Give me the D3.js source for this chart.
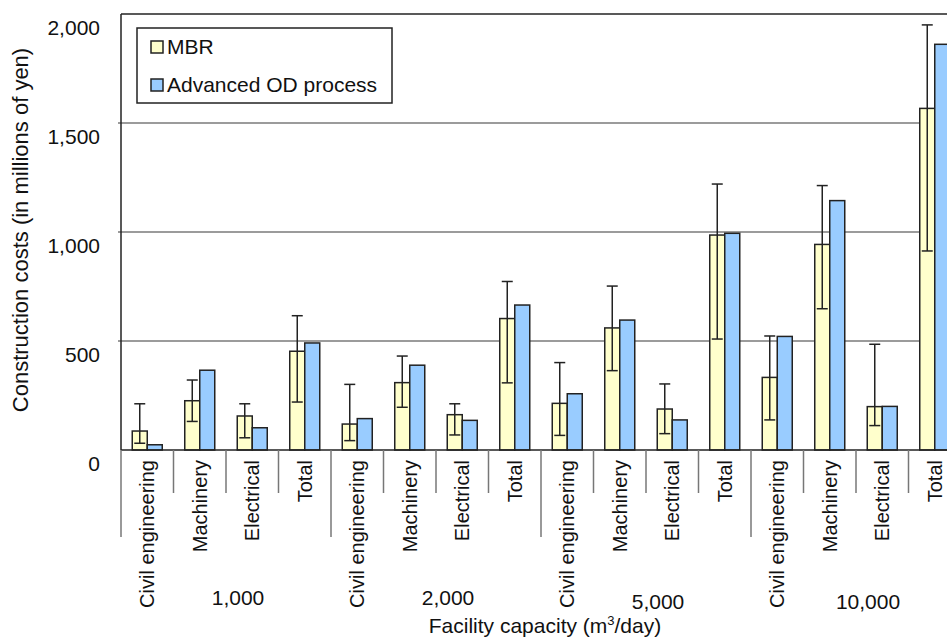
<!DOCTYPE html>
<html>
<head>
<meta charset="utf-8">
<script src="https://cdn.jsdelivr.net/npm/d3@7"></script>
<style>
  html, body { margin: 0; padding: 0; background: #fff; }
  svg { display: block; font-family: "Liberation Sans", Arial, sans-serif; }
</style>
</head>
<body>
<svg id="chart" width="947" height="640"></svg>
<script>
// Facility capacities (m3/day) and the cost items shown for each
const capacities = ["1,000", "2,000", "5,000", "10,000"];
const items = ["Civil engineering", "Machinery", "Electrical", "Total"];

// MBR construction costs (millions of yen), in capacity-then-item order
const mbrValues = [87, 226, 156, 453, 119, 309, 162, 603, 214, 560, 188, 986, 333, 943, 199, 1567];
// MBR range (error bar low / high)
const mbrLow  = [31, 131, 56, 220, 43, 196, 69, 308, 67, 364, 75, 509, 138, 648, 112, 913];
const mbrHigh = [212, 321, 212, 616, 301, 431, 212, 773, 401, 752, 303, 1220, 523, 1213, 485, 1950];
// Advanced OD process construction costs (millions of yen)
const odValues = [24, 366, 102, 491, 144, 389, 136, 665, 258, 596, 138, 994, 521, 1144, 200, 1861];

const yTicks = [0, 500, 1000, 1500, 2000];
const seriesNames = ["MBR", "Advanced OD process"];
const seriesColors = ["#ffffcc", "#99ccff"];

const svg = d3.select("#chart");
const plot = { left: 121, right: 961, top: 14, bottom: 450 };

// one slot per (capacity, item) pair
const slots = [];
capacities.forEach((c, gi) => items.forEach((it, ii) => slots.push({ cap: c, item: it, gi, ii, k: gi * items.length + ii })));

const x = d3.scaleBand().domain(slots.map(s => s.k)).range([plot.left, plot.right]);
const bw = x.bandwidth();
const xs = d3.scaleBand().domain(seriesNames).range([bw / 2 - 15, bw / 2 + 15]);
const y = d3.scaleLinear().domain([0, 2000]).range([plot.bottom, plot.top]);

// horizontal gridlines
svg.append("g").selectAll("line").data(yTicks.filter(v => v > 0 && v < 2000)).join("line")
  .attr("x1", plot.left - 3).attr("x2", 947)
  .attr("y1", d => y(d)).attr("y2", d => y(d))
  .attr("stroke", "#7a7a7a").attr("stroke-width", 1.5);

// top border line
svg.append("line").attr("x1", plot.left).attr("x2", 947)
  .attr("y1", y(2000)).attr("y2", y(2000))
  .attr("stroke", "#222").attr("stroke-width", 1.5);

// y axis labels
const yAxis = svg.append("g").attr("transform", `translate(${plot.left},0)`)
  .call(d3.axisLeft(y).tickValues(yTicks).tickFormat(d3.format(",")).tickSize(0).tickPadding(21));
yAxis.select(".domain").remove();
yAxis.selectAll("text")
  .attr("dy", 20).attr("font-size", 21).attr("fill", "#111")
  .attr("font-family", "Liberation Sans, Arial, sans-serif");

// left axis line
svg.append("line").attr("x1", plot.left).attr("x2", plot.left)
  .attr("y1", plot.top).attr("y2", plot.bottom)
  .attr("stroke", "#222").attr("stroke-width", 1.5);

// bars
const barG = svg.append("g");
const series = [
  { name: seriesNames[0], values: mbrValues, color: seriesColors[0] },
  { name: seriesNames[1], values: odValues, color: seriesColors[1] }
];
series.forEach(s => {
  barG.append("g").selectAll("rect").data(slots).join("rect")
    .attr("x", d => x(d.k) + xs(s.name))
    .attr("width", xs.bandwidth())
    .attr("y", d => y(s.values[d.k]))
    .attr("height", d => y(0) - y(s.values[d.k]))
    .attr("fill", s.color)
    .attr("stroke", "#222").attr("stroke-width", 1.5);
});

// MBR error bars
const errG = svg.append("g").attr("stroke", "#222").attr("stroke-width", 1.5);
const ex = d => x(d.k) + xs(seriesNames[0]) + xs.bandwidth() / 2;
errG.selectAll("line.v").data(slots).join("line").attr("class", "v")
  .attr("x1", ex).attr("x2", ex)
  .attr("y1", d => y(mbrLow[d.k])).attr("y2", d => y(mbrHigh[d.k]));
errG.selectAll("line.hi").data(slots).join("line").attr("class", "hi")
  .attr("x1", d => ex(d) - 5.5).attr("x2", d => ex(d) + 5.5)
  .attr("y1", d => y(mbrHigh[d.k])).attr("y2", d => y(mbrHigh[d.k]));
errG.selectAll("line.lo").data(slots).join("line").attr("class", "lo")
  .attr("x1", d => ex(d) - 5.5).attr("x2", d => ex(d) + 5.5)
  .attr("y1", d => y(mbrLow[d.k])).attr("y2", d => y(mbrLow[d.k]));

// baseline
svg.append("line").attr("x1", plot.left).attr("x2", 947)
  .attr("y1", y(0)).attr("y2", y(0))
  .attr("stroke", "#222").attr("stroke-width", 1.5);

// category separators: long between capacity groups, short between items
svg.append("g").selectAll("line").data(slots).join("line")
  .attr("x1", d => x(d.k)).attr("x2", d => x(d.k))
  .attr("y1", plot.bottom)
  .attr("y2", d => d.ii === 0 ? 537 : 493)
  .attr("stroke", "#777").attr("stroke-width", 1.5);

// item labels (rotated)
svg.append("g").selectAll("text").data(slots).join("text")
  .attr("transform", d => `translate(${x(d.k) + bw / 2},460) rotate(-90)`)
  .attr("text-anchor", "end").attr("dy", "0.35em")
  .attr("font-size", 20).attr("fill", "#111")
  .text(d => d.item);

// capacity group labels
svg.append("g").selectAll("text").data(capacities).join("text")
  .attr("x", (d, i) => x(i * items.length) + bw * items.length / 2 + 12)
  .attr("y", (d, i) => i < 2 ? 605 : 609)
  .attr("text-anchor", "middle").attr("font-size", 21).attr("fill", "#111")
  .text(d => d);

// axis titles
const xt = svg.append("text")
  .attr("x", (plot.left + plot.right) / 2 + 4).attr("y", 633)
  .attr("text-anchor", "middle").attr("font-size", 21).attr("fill", "#111");
xt.append("tspan").text("Facility capacity (m");
xt.append("tspan").attr("dy", -8).attr("font-size", 13).text("3");
xt.append("tspan").attr("dy", 8).text("/day)");

svg.append("text")
  .attr("transform", "translate(20,230) rotate(-90)")
  .attr("text-anchor", "middle").attr("dy", "0.35em")
  .attr("font-size", 22).attr("fill", "#111")
  .text("Construction costs (in millions of yen)");

// legend
const lg = svg.append("g");
lg.append("rect").attr("x", 137).attr("y", 28).attr("width", 255).attr("height", 75)
  .attr("fill", "#fff").attr("stroke", "#222").attr("stroke-width", 1.5);
const rowsY = [47, 85];
seriesNames.forEach((n, i) => {
  lg.append("rect").attr("x", 151).attr("y", rowsY[i] - 6).attr("width", 12).attr("height", 12)
    .attr("fill", seriesColors[i]).attr("stroke", "#222").attr("stroke-width", 1.5);
  lg.append("text").attr("x", 167).attr("y", rowsY[i]).attr("dy", "0.35em")
    .attr("font-size", 21).attr("fill", "#111").text(n);
});
</script>
</body>
</html>
